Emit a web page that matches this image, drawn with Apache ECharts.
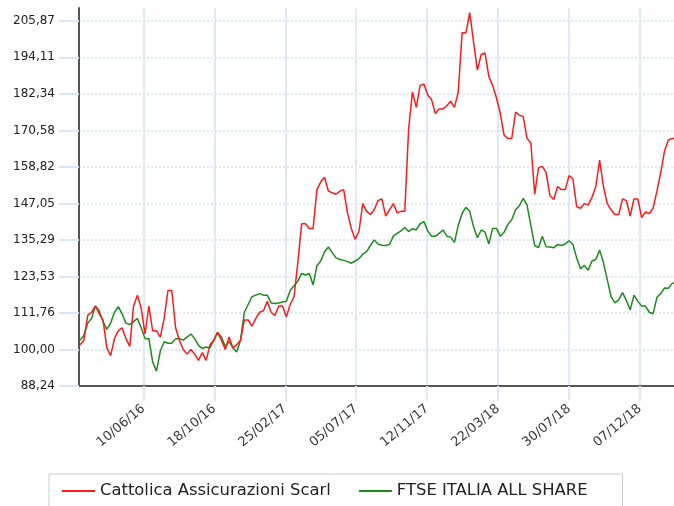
<!DOCTYPE html>
<html><head><meta charset="utf-8">
<script src="https://cdn.jsdelivr.net/npm/echarts@6/dist/echarts.min.js"></script>
<style>html,body{margin:0;padding:0;background:#fff}#c{width:674px;height:506px}</style>
</head><body><div id="c"></div>
<script>
// ---- data (weekly readings, first reading on firstWeek) ----
const seriesNames = ['Cattolica Assicurazioni Scarl', 'FTSE ITALIA ALL SHARE'];
const firstWeek = '2016-02-15';
const weekStepDays = 7;
const cattolica = [
101.5, 103, 111, 112, 114, 111.5, 109.5, 100.5, 98, 103.5,
106, 107, 103.5, 101, 114, 117.5, 113.3, 105, 114, 106,
106, 104, 110, 119, 119, 107, 103, 100, 98.5, 100,
98.5, 96.5, 99, 96.5, 101.5, 103, 105.5, 103, 100, 104,
100.5, 101.5, 103, 109.5, 109.5, 107.5, 110, 112, 112.5, 115.5,
112, 111, 114, 114, 110.5, 114.5, 117, 128, 140.5, 140.5,
139, 139, 151.5, 154, 155.5, 151, 150.5, 150, 151, 151.5,
144, 139, 135.5, 138, 147, 144.5, 143.5, 145, 148, 148.5,
143, 145, 147, 144, 144.5, 144.5, 171, 183, 178, 185,
185.5, 182, 180.5, 176, 177.5, 177.5, 178.5, 180, 178, 183,
202, 202, 208.5, 199, 190, 195, 195.5, 188, 185, 181,
176, 169, 168, 168, 176.5, 175.5, 175, 168, 166.5, 150,
158.5, 159, 157, 149.5, 148.3, 152.5, 151.5, 151.5, 156, 155,
146, 145.5, 147, 146.5, 149, 152.5, 161, 152.5, 147, 145,
143.5, 143.5, 148.5, 148, 143, 148.5, 148.5, 142.5, 144.3, 143.8,
145.5, 151, 157, 164, 167.5, 168, 168
];
const ftse = [
103, 104.5, 108.5, 110, 114, 112.5, 109, 106.5, 108.5, 112,
113.8, 111.5, 108.5, 108, 109, 110, 107, 103.5, 103.5, 96,
93, 99.5, 102.5, 102, 102, 103.5, 103.5, 103, 104, 105,
103.5, 101.3, 100.3, 100.8, 100.5, 103, 105.5, 104, 101, 102.5,
100.5, 99.2, 103, 112, 114.5, 117, 117.5, 118, 117.5, 117.5,
115, 114.8, 115, 115.3, 115.5, 119, 120.5, 122, 124.5, 124,
124.5, 120.8, 127, 128.5, 131.5, 133, 131.2, 129.5, 129, 128.7,
128.3, 127.8, 128.5, 129.3, 130.7, 131.5, 133.5, 135.3, 134, 133.6,
133.5, 133.8, 136.5, 137.4, 138.2, 139.3, 138, 138.9, 138.5, 140.5,
141.2, 138.2, 136.5, 136.5, 137.4, 138.5, 136.5, 136.2, 134.5, 140,
143.8, 145.8, 144.5, 139.5, 136, 138.5, 137.8, 134, 139, 139,
136.5, 137.8, 140.3, 141.8, 145, 146.3, 148.7, 146.5, 140, 133.5,
132.8, 136.5, 133.1, 133, 132.8, 133.8, 133.5, 134, 135, 133.8,
129.5, 126, 127.1, 125.5, 128.5, 129, 132, 128, 122.5, 117,
115, 116, 118.3, 115.8, 112.8, 117.5, 115.5, 114, 114, 112,
111.5, 116.8, 118, 119.8, 119.7, 121.3, 121.5
];
const xTickLabels = ['10/06/16', '18/10/16', '25/02/17', '05/07/17', '12/11/17', '22/03/18', '30/07/18', '07/12/18'];
const yTickValues = [88.24, 100, 111.76, 123.53, 135.29, 147.05, 158.82, 170.58, 182.34, 194.11, 205.87];
const yTickLabels = ['88,24', '100,00', '111,76', '123,53', '135,29', '147,05', '158,82', '170,58', '182,34', '194,11', '205,87'];
const xRange = ['2016-02-13T00:00:00Z', '2019-02-07T07:00:00Z'];
const yRange = [88.24, 210];

// ---- build ----
const DAY = 86400000;
const t0 = Date.parse(firstWeek + 'T00:00:00Z');
const toPairs = arr => arr.map((v, i) => [t0 + i * weekStepDays * DAY, v]);
const xTickVals = xTickLabels.map(s => { const p = s.split('/').map(Number); return Date.UTC(2000 + p[2], p[1] - 1, p[0]); });
const FONT = 'DejaVu Sans';

const chart = echarts.init(document.getElementById('c'), null, {renderer: 'canvas'});
chart.setOption({
  animation: false,
  backgroundColor: '#ffffff',
  grid: {left: 79, right: 0, top: 8, bottom: 120, containLabel: false, outerBoundsMode: 'none'},
  xAxis: {
    type: 'value',
    min: Date.parse(xRange[0]), max: Date.parse(xRange[1]),
    axisLine: {show: true, onZero: false, lineStyle: {color: '#555555', width: 2}},
    axisTick: {show: true, length: 15, customValues: xTickVals, lineStyle: {color: '#dfe9f7', width: 2}},
    axisLabel: {
      customValues: xTickVals, rotate: 40, margin: 21, color: '#3a3a3a', fontFamily: FONT, fontSize: 13,
      hideOverlap: false, showMinLabel: true, showMaxLabel: true,
      formatter: function (v) { for (let i = 0; i < xTickVals.length; i++) { if (Math.abs(xTickVals[i] - v) < DAY / 2) return xTickLabels[i]; } return ''; }
    },
    splitLine: {show: true, lineStyle: {color: '#dfe9f7', width: 2, type: 'solid'}}
  },
  yAxis: {
    type: 'value',
    min: yRange[0], max: yRange[1],
    axisLine: {show: true, lineStyle: {color: '#555555', width: 2}},
    axisTick: {show: true, length: 20, customValues: yTickValues, lineStyle: {color: '#dbe7f6', width: 2}},
    axisLabel: {
      customValues: yTickValues, margin: 24, color: '#222222', fontFamily: FONT, fontSize: 12,
      showMinLabel: true, showMaxLabel: true,
      formatter: function (v) { for (let i = 0; i < yTickValues.length; i++) { if (Math.abs(yTickValues[i] - v) < 1e-6) return yTickLabels[i]; } return ''; }
    },
    splitLine: {show: true, lineStyle: {color: '#d3e2f4', width: 1.5, type: [2, 2]}}
  },
  legend: {
    left: 49, top: 474,
    padding: [9, 35, 14, 13],
    borderColor: '#cccccc', borderWidth: 1,
    icon: 'rect', itemWidth: 33, itemHeight: 2, itemGap: 28,
    textStyle: {fontFamily: FONT, fontSize: 16.4, color: '#222222'},
    data: seriesNames
  },
  series: [
    {name: seriesNames[0], type: 'line', data: toPairs(cattolica), showSymbol: false, symbol: 'none',
     lineStyle: {color: '#ff1a1a', width: 1.5}, itemStyle: {color: '#ff1a1a'}, z: 3},
    {name: seriesNames[1], type: 'line', data: toPairs(ftse), showSymbol: false, symbol: 'none',
     lineStyle: {color: '#1f8a1f', width: 1.5}, itemStyle: {color: '#1f8a1f'}, z: 2}
  ]
});
</script></body></html>
